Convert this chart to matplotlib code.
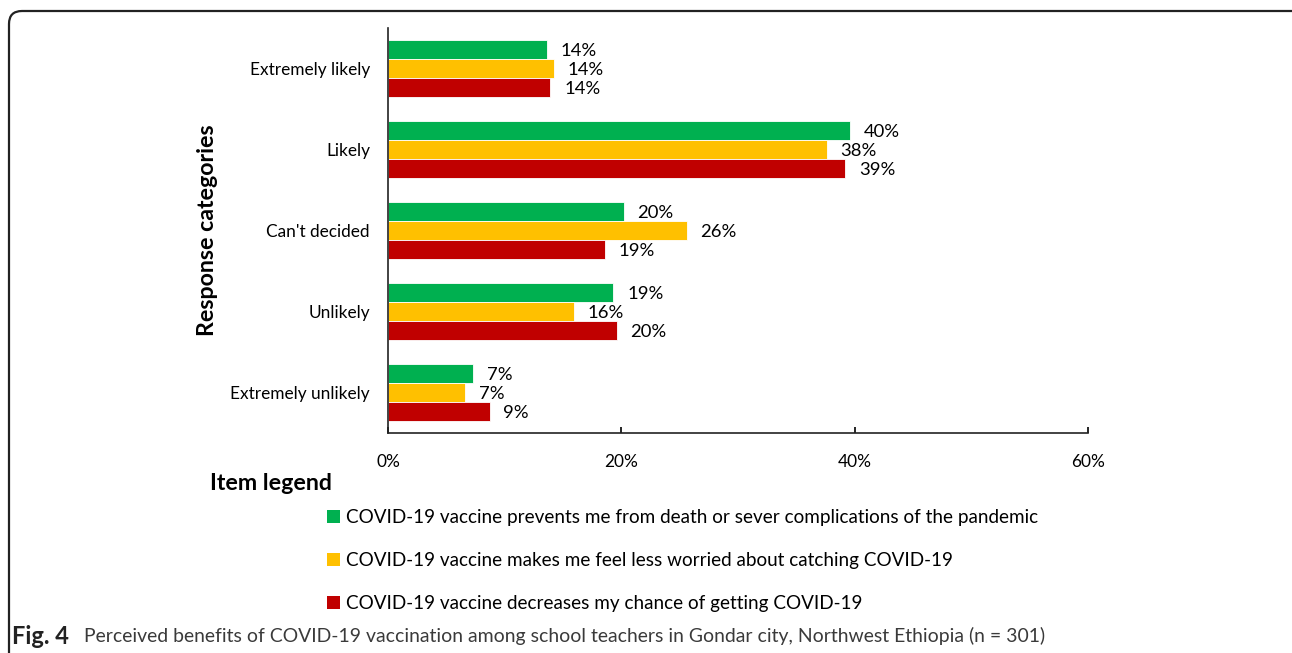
import matplotlib.pyplot as plt
import numpy as np
from matplotlib.patches import FancyBboxPatch, Patch

# Response categories, top to bottom
categories = ['Extremely likely', 'Likely', "Can't decided", 'Unlikely', 'Extremely unlikely']
# Percent of teachers per item
prevents = [13.6, 39.6, 20.2, 19.3, 7.3]
less_worried = [14.2, 37.6, 25.6, 15.9, 6.6]
decreases = [13.9, 39.2, 18.6, 19.6, 8.7]
series_names = ['COVID-19 vaccine prevents me from death or sever complications of the pandemic',
                'COVID-19 vaccine makes me feel less worried about catching COVID-19',
                'COVID-19 vaccine decreases my chance of getting COVID-19']
colors = ['#00B050', '#FFC000', '#C00000']

plt.rcParams['font.family'] = ['Lato', 'DejaVu Sans']

fig = plt.figure(figsize=(12.92, 6.53), dpi=100)
ax = fig.add_axes([388/1292, 1 - 433/653, 700/1292, 405/653])

y = np.arange(len(categories))
h = 0.235
for k, (vals, col) in enumerate(zip([prevents, less_worried, decreases], colors)):
    pos = y + (k - 1) * h
    ax.barh(pos, vals, height=h, color=col, edgecolor='white', linewidth=0.6)
    for p, v in zip(pos, vals):
        ax.annotate(f"{v:.0f}%", (v, p), xytext=(10, -1), textcoords='offset points',
                    va='center', ha='left', fontsize=13.3, color='black')

ax.set_ylim(len(categories) - 0.5, -0.5)
ax.set_xlim(0, 60)
ax.set_xticks([0, 20, 40, 60])
ax.set_xticklabels(['0%', '20%', '40%', '60%'])
ax.set_yticks(y)
ax.set_yticklabels(categories)
ax.tick_params(axis='y', length=0, pad=13, labelsize=12.4)
ax.tick_params(axis='x', direction='in', length=4, width=1.2, pad=15, labelsize=12.4)
for s in ['top', 'right']:
    ax.spines[s].set_visible(False)
for s in ['left', 'bottom']:
    ax.spines[s].set_linewidth(1.2)
    ax.spines[s].set_color('#222222')

fig.text(207/1292, 1 - 230/653, 'Response categories', rotation=90, ha='center', va='center',
         fontsize=16.7, fontweight='bold')
fig.text(210/1292, 1 - 483/653, 'Item legend', ha='left', va='center', fontsize=16.7, fontweight='bold')

handles = [Patch(facecolor=c, edgecolor='none') for c in colors]
fig.legend(handles, series_names, loc='upper left', bbox_to_anchor=(327/1292, 1 - 509/653),
           frameon=False, fontsize=13.6, handlelength=0.7, handleheight=0.7,
           handletextpad=0.3, labelspacing=1.37, borderaxespad=0, borderpad=0)

fig.text(12/1292, 1 - 636/653, 'Fig. 4', ha='left', va='center', fontsize=17, fontweight='bold', color='#222222')
fig.text(84/1292, 1 - 636/653,
         'Perceived benefits of COVID-19 vaccination among school teachers in Gondar city, Northwest Ethiopia (n = 301)',
         ha='left', va='center', fontsize=13.95, color='#3a3a3a')

# rounded frame around the figure
frame = FancyBboxPatch((0.09, -0.5), 13.5, 6.53 - 0.11 + 0.5,
                       boxstyle='round,pad=0,rounding_size=0.13',
                       transform=fig.dpi_scale_trans, facecolor='none',
                       edgecolor='#222222', linewidth=1.6)
fig.patches.append(frame)

fig.savefig('out.png', dpi=100)
plt.close()
